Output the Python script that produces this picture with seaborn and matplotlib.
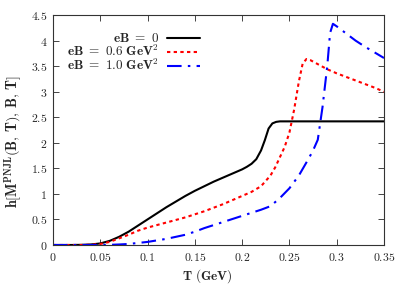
import numpy as np
import pandas as pd
import matplotlib
matplotlib.use("Agg")
import matplotlib.pyplot as plt
import seaborn as sns

T0 = [0, 0.02, 0.03, 0.04, 0.05, 0.06, 0.07, 0.08, 0.09, 0.1, 0.11, 0.12, 0.13, 0.14, 0.15, 0.16,
      0.17, 0.18, 0.19, 0.2, 0.205, 0.21, 0.215, 0.22, 0.224, 0.228, 0.232, 0.236, 0.24, 0.25, 0.3, 0.35]
h0 = [0, 0, 0.003, 0.01, 0.03, 0.08, 0.16, 0.26, 0.38, 0.50, 0.62, 0.74, 0.85, 0.96, 1.06, 1.15,
      1.24, 1.32, 1.40, 1.48, 1.53, 1.59, 1.68, 1.85, 2.05, 2.28, 2.38, 2.41, 2.42, 2.42, 2.42, 2.42]

T06 = [0, 0.03, 0.04, 0.05, 0.06, 0.07, 0.08, 0.09, 0.10, 0.12, 0.14, 0.16, 0.18, 0.19, 0.2, 0.21,
       0.22, 0.23, 0.235, 0.24, 0.245, 0.25, 0.255, 0.26, 0.264, 0.268, 0.272, 0.28, 0.29, 0.3,
       0.32, 0.34, 0.35]
h06 = [0, 0, 0.005, 0.02, 0.06, 0.13, 0.2, 0.28, 0.34, 0.44, 0.54, 0.66, 0.8, 0.88, 0.96, 1.04,
       1.15, 1.36, 1.52, 1.72, 1.92, 2.2, 2.65, 3.2, 3.55, 3.64, 3.62, 3.54, 3.44, 3.36,
       3.22, 3.08, 3.0]

T10 = [0, 0.05, 0.06, 0.07, 0.08, 0.09, 0.1, 0.11, 0.12, 0.13, 0.14, 0.15, 0.16, 0.17, 0.18, 0.19,
       0.2, 0.21, 0.22, 0.23, 0.24, 0.25, 0.26, 0.27, 0.275, 0.28, 0.285, 0.29, 0.293, 0.296, 0.3,
       0.31, 0.32, 0.33, 0.34, 0.35]
h10 = [0, 0, 0.003, 0.01, 0.02, 0.04, 0.06, 0.09, 0.12, 0.16, 0.2, 0.26, 0.33, 0.39, 0.45, 0.51,
       0.57, 0.63, 0.69, 0.76, 0.92, 1.11, 1.36, 1.68, 1.85, 2.06, 2.70, 3.50, 4.15, 4.33, 4.28,
       4.14, 4.0, 3.88, 3.77, 3.66]

labels = [r'$\mathbf{eB\ =\ 0}$',
          r'$\mathbf{eB\ =\ 0.6\ GeV}^{\mathbf{2}}$',
          r'$\mathbf{eB\ =\ 1.0\ GeV}^{\mathbf{2}}$']
xticks = [0, 0.05, 0.1, 0.15, 0.2, 0.25, 0.3, 0.35]
xticklabels = ['0', '0.05', '0.1', '0.15', '0.2', '0.25', '0.3', '0.35']
yticks = [0, 0.5, 1, 1.5, 2, 2.5, 3, 3.5, 4, 4.5]
yticklabels = ['0', '0.5', '1', '1.5', '2', '2.5', '3', '3.5', '4', '4.5']

sns.set_style("ticks")
plt.rcParams['mathtext.fontset'] = 'cm'
plt.rcParams['font.family'] = ['DejaVu Serif']

fig = plt.figure(figsize=(4.07, 2.85), dpi=100)
ax = fig.add_axes([0.130, 0.1404, 0.8135, 0.8066])

styles = [dict(color='black', lw=1.5, ls='-'),
          dict(color='red', lw=1.5, ls=(0, (1.6, 1.6))),
          dict(color='blue', lw=1.5, ls=(0, (7, 3, 1.2, 3)))]
for T, h, lab, st in zip([T0, T06, T10], [h0, h06, h10], labels, styles):
    df = pd.DataFrame({'T': T, 'h': h})
    sns.lineplot(data=df, x='T', y='h', ax=ax, label=lab, sort=False, estimator=None, **st)

ax.set_xlim(0, 0.35)
ax.set_ylim(0, 4.5)
ax.set_xticks(xticks)
ax.set_xticklabels([f'${t}$' for t in xticklabels])
ax.set_yticks(yticks)
ax.set_yticklabels([f'${t}$' for t in yticklabels])
ax.tick_params(direction='in', top=True, right=True, length=4, width=0.6, labelsize=8.5, pad=4)
for s in ax.spines.values():
    s.set_linewidth(0.8)
    s.set_color('#333333')
ax.set_xlabel(r'$\mathbf{T\ (GeV)}$', fontsize=9.5)
ax.xaxis.set_label_coords(0.467, -0.098)
ax.set_ylabel(r'$\mathbf{h[M^{PNJL}(B,\,T),\,B,\,T]}$', fontsize=10.2)
ax.yaxis.set_label_coords(-0.088, 0.45)

leg = ax.legend(loc='upper right', bbox_to_anchor=(0.444, 0.925), frameon=False,
                markerfirst=False, fontsize=9.5, handlelength=2.5, handletextpad=0.6,
                labelspacing=-0.1, borderpad=0, borderaxespad=0)

fig.savefig('out.png', dpi=100)
